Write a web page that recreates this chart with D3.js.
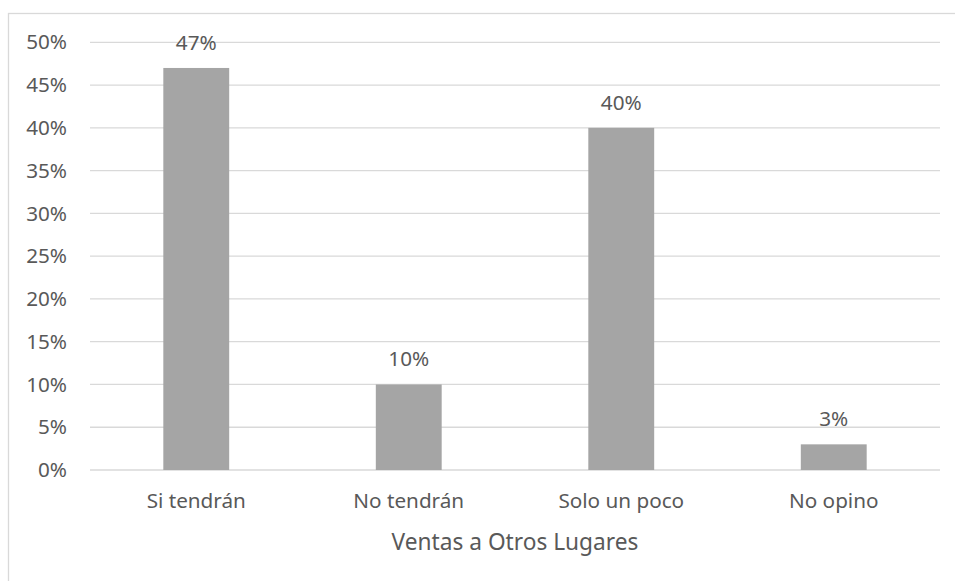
<!DOCTYPE html>
<html>
<head>
<meta charset="utf-8">
<script src="https://cdn.jsdelivr.net/npm/d3@7"></script>
<style>
  html, body { margin: 0; padding: 0; background: #fff; }
  svg { display: block; }
  text { font-family: "Noto Sans", "Open Sans", sans-serif; fill: #595959; }
</style>
</head>
<body>
<svg id="chart" width="955" height="581"></svg>
<script>
// Survey results: expected sales to other places
const categories = ["Si tendrán", "No tendrán", "Solo un poco", "No opino"];
const values = [47, 10, 40, 3];
const yTicks = [0, 5, 10, 15, 20, 25, 30, 35, 40, 45, 50];
const xTitle = "Ventas a Otros Lugares";

const svg = d3.select("#chart");
const W = 955, H = 581;
const plot = { left: 90, right: 940, top: 42.3, bottom: 470 };
const labelSize = "20.7px";

// Chart frame (extends past the right/bottom edge of the page)
svg.append("rect")
  .attr("x", 8.5).attr("y", 13.5)
  .attr("width", W + 20).attr("height", H + 20)
  .attr("fill", "none").attr("stroke", "#d9d9d9").attr("stroke-width", 1.3);

const x = d3.scaleBand()
  .domain(categories)
  .range([plot.left, plot.right])
  .paddingInner(0.69)
  .paddingOuter(0.345);

const y = d3.scaleLinear().domain([0, 50]).range([plot.bottom, plot.top]);

// Horizontal gridlines
svg.append("g")
  .selectAll("line")
  .data(yTicks)
  .join("line")
  .attr("x1", plot.left).attr("x2", plot.right)
  .attr("y1", d => y(d)).attr("y2", d => y(d))
  .attr("stroke", "#d9d9d9").attr("stroke-width", 1.3);

// Y axis labels
const yAxis = d3.axisLeft(y)
  .tickValues(yTicks)
  .tickFormat(d => d + "%")
  .tickSize(0)
  .tickPadding(23);
const gy = svg.append("g")
  .attr("transform", `translate(${plot.left},0)`)
  .call(yAxis);
gy.select(".domain").remove();
gy.selectAll("text")
  .style("font-size", labelSize)
  .attr("fill", "#595959");

// Bars
svg.append("g")
  .selectAll("rect")
  .data(values)
  .join("rect")
  .attr("x", (d, i) => x(categories[i]))
  .attr("width", x.bandwidth())
  .attr("y", d => y(d))
  .attr("height", d => y(0) - y(d))
  .attr("fill", "#a5a5a5");

// Value labels
svg.append("g")
  .selectAll("text")
  .data(values)
  .join("text")
  .attr("x", (d, i) => x(categories[i]) + x.bandwidth() / 2)
  .attr("y", d => y(d) - 18)
  .attr("text-anchor", "middle")
  .style("font-size", labelSize)
  .text(d => d + "%");

// X axis category labels
const xAxis = d3.axisBottom(x).tickSize(0).tickPadding(23);
const gx = svg.append("g")
  .attr("transform", `translate(0,${plot.bottom})`)
  .call(xAxis);
gx.select(".domain").remove();
gx.selectAll("text")
  .style("font-size", labelSize)
  .attr("fill", "#595959");

// Axis title
svg.append("text")
  .attr("x", (plot.left + plot.right) / 2)
  .attr("y", 550)
  .attr("text-anchor", "middle")
  .style("font-size", "22.7px")
  .text(xTitle);
</script>
</body>
</html>
